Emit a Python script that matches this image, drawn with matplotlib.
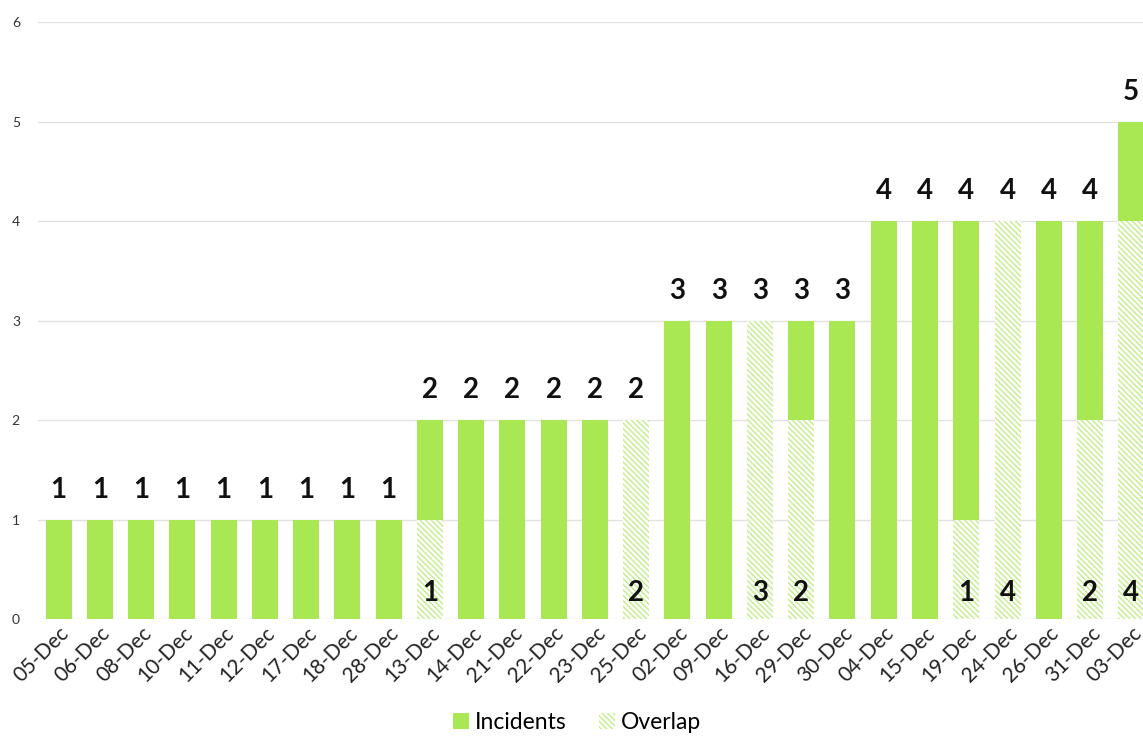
import matplotlib.pyplot as plt
import numpy as np
from matplotlib.patches import Patch

plt.rcParams['font.family'] = ['Lato', 'DejaVu Sans']

dates = ["05-Dec", "06-Dec", "08-Dec", "10-Dec", "11-Dec", "12-Dec", "17-Dec", "18-Dec",
         "28-Dec", "13-Dec", "14-Dec", "21-Dec", "22-Dec", "23-Dec", "25-Dec", "02-Dec",
         "09-Dec", "16-Dec", "29-Dec", "30-Dec", "04-Dec", "15-Dec", "19-Dec", "24-Dec",
         "26-Dec", "31-Dec", "03-Dec"]
incidents = [1, 1, 1, 1, 1, 1, 1, 1, 1, 2, 2, 2, 2, 2, 2, 3, 3, 3, 3, 3, 4, 4, 4, 4, 4, 4, 5]
overlap = [0, 0, 0, 0, 0, 0, 0, 0, 0, 1, 0, 0, 0, 0, 2, 0, 0, 3, 2, 0, 0, 0, 1, 4, 0, 2, 4]

green = "#A9E853"
hatch_green = "#C2EE88"

fig = plt.figure(figsize=(11.43, 7.37), dpi=100)
ax = fig.add_axes([0.0332, 0.160, 0.9746, 0.810])

x = np.arange(len(dates))
w = 0.63
plt.rcParams['hatch.linewidth'] = 1.0
hatch = "\\" * 6

ax.bar(x, incidents, width=w, color=green, linewidth=0, zorder=2)
ax.bar(x, overlap, width=w, facecolor="white", edgecolor=hatch_green,
       hatch=hatch, linewidth=0, zorder=3)

for xi, v in zip(x, incidents):
    ax.text(xi, v + 0.3, str(v), ha="center", va="center", fontsize=20,
            fontweight="bold", color="#111111", zorder=4)
for xi, v in zip(x, overlap):
    if v > 0:
        ax.text(xi, 0.26, str(v), ha="center", va="center", fontsize=20,
                fontweight="bold", color="#111111", zorder=4)

ax.set_ylim(0, 6)
ax.set_xlim(-0.5, len(dates) - 0.5)
ax.set_yticks(range(7))
ax.grid(axis="y", color="#E2E2E2", linewidth=1, zorder=0)
ax.set_axisbelow(True)
for s in ax.spines.values():
    s.set_visible(False)
ax.tick_params(axis="y", length=0, pad=13, labelsize=10, labelcolor="#333333")
ax.tick_params(axis="x", length=0, pad=3, labelsize=15, labelcolor="#222222")
ax.set_xticks(x)
ax.set_xticklabels(dates, rotation=45, ha="right", rotation_mode="anchor")

handles = [Patch(facecolor=green, linewidth=0),
           Patch(facecolor="white", edgecolor=hatch_green, hatch=hatch, linewidth=0)]
fig.legend(handles, ["Incidents", "Overlap"], loc="lower center", bbox_to_anchor=(0.505, -0.022),
           ncol=2, frameon=False, fontsize=16.5, handlelength=0.7, handleheight=0.7,
           handletextpad=0.25, columnspacing=1.4)

fig.savefig("out.png", dpi=100)
